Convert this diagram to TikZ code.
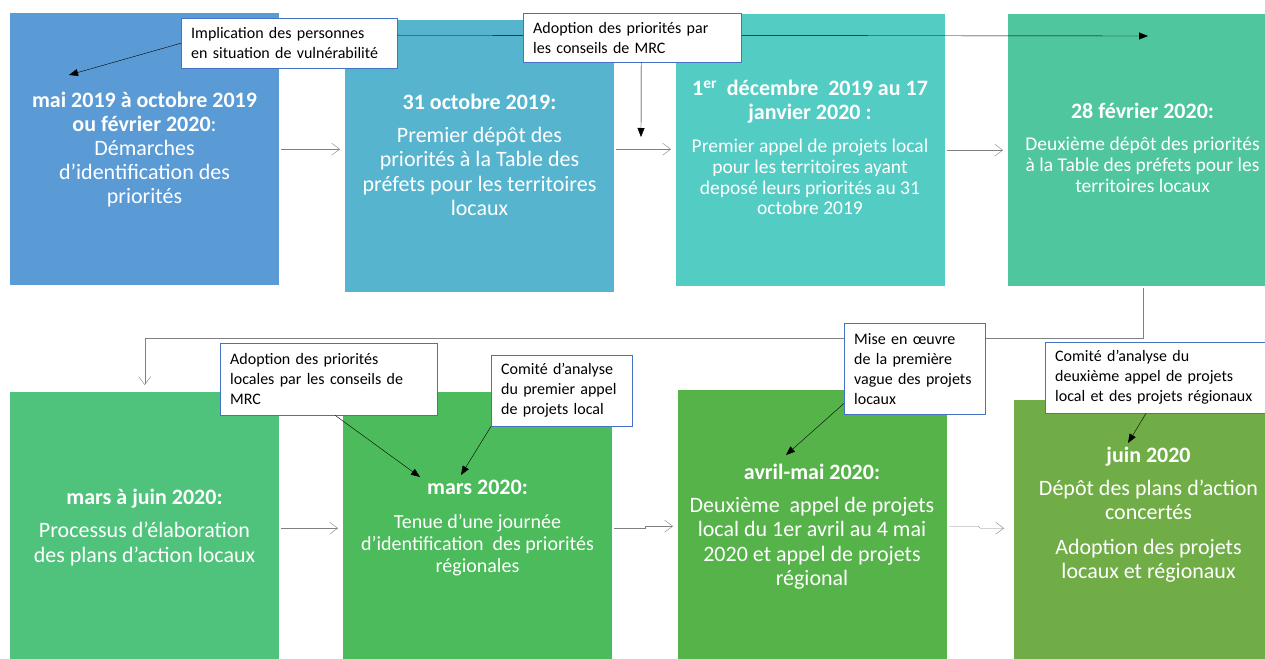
\documentclass[tikz,border=0pt]{standalone}
\usepackage{fontspec}
\setmainfont{Carlito}
\usetikzlibrary{arrows.meta}

\definecolor{stepA}{HTML}{5B9BD5}
\definecolor{stepB}{HTML}{57B4CE}
\definecolor{stepC}{HTML}{53CCC4}
\definecolor{stepD}{HTML}{50C69E}
\definecolor{stepE}{HTML}{4FC27C}
\definecolor{stepF}{HTML}{4CBB5B}
\definecolor{stepG}{HTML}{56B34A}
\definecolor{stepH}{HTML}{70AD47}
\definecolor{noteblue}{HTML}{4472C4}
\definecolor{flowgray}{HTML}{808080}

\begin{document}
\begin{tikzpicture}[x=1pt, y=-1pt,
  box/.style={rectangle, inner sep=0pt, minimum width=269pt, minimum height=272pt, anchor=north west},
  boxtitle/.style={text=white, align=center, inner sep=0pt, anchor=north, font=\fontsize{22}{24}\selectfont\bfseries},
  boxbody/.style={text=white, align=center, inner sep=0pt, anchor=north, font=\fontsize{22}{24.5}\selectfont},
  note/.style={draw=noteblue, fill=white, align=left, inner xsep=10pt, inner ysep=0pt, anchor=north west, font=\fontsize{16}{20}\selectfont},
  flow/.style={draw=flowgray, shorten <=2pt, shorten >=5pt, -{Straight Barb[length=8pt,width=12pt]}},
  point/.style={black, -{Triangle[length=9pt,width=7pt]}}
]

  % Page
  \useasboundingbox (0,0) rectangle (1265,658);

  % Top row
  \node[box, fill=stepA] (b1) at (10,13) {};
  \node[box, fill=stepB] (b2) at (345,20) {};
  \node[box, fill=stepC] (b3) at (676,14) {};
  \node[box, fill=stepD] (b4) at (1008,14) {};

  % Bottom row
  \node[box, fill=stepE] (b5) at (10,392) {};
  \node[box, fill=stepF] (b6) at (343,392) {};
  \node[box, fill=stepG] (b7) at (678,390) {};
  \node[box, fill=stepH] (b8) at (1014,400) {};

  % Texts of the top row
  \node[boxtitle] (h1) at (144.5,92) {mai 2019 à octobre 2019\\ou février 2020\mdseries:};
  \node[boxbody, font=\fontsize{22}{24}\selectfont] (d1) at (144.5,140) {Démarches\\d’identification des\\priorités};

  \node[boxtitle] (h2) at (479.5,94) {31 octobre 2019:};
  \node[boxbody] (d2) at (479.5,127) {Premier dépôt des\\priorités à la Table des\\préfets pour les territoires\\locaux};

  \node[boxtitle] (h3) at (810,80) {1\textsuperscript{er}~ décembre~ 2019 au 17\\janvier 2020 :};
  \node[boxbody, font=\fontsize{19.5}{20.7}\selectfont] (d3) at (810,139) {Premier appel de projets local\\pour les territoires ayant\\deposé leurs priorités au 31\\octobre 2019};

  \node[boxtitle] (h4) at (1142.5,103) {28 février 2020:};
  \node[boxbody, font=\fontsize{19.5}{21}\selectfont] (d4) at (1142.5,137) {Deuxième dépôt des priorités\\à la Table des préfets pour les\\territoires locaux};

  % Texts of the bottom row
  \node[boxtitle] (h5) at (144.5,489) {mars à juin 2020:};
  \node[boxbody, font=\fontsize{22}{25}\selectfont] (d5) at (144.5,522) {Processus d’élaboration\\des plans d’action locaux};

  \node[boxtitle] (h6) at (477.5,480) {mars 2020:};
  \node[boxbody, font=\fontsize{20}{22}\selectfont] (d6) at (477.5,514) {Tenue d’une journée\\d’identification~ des priorités\\régionales};

  \node[boxtitle] (h7) at (812,464) {avril-mai 2020:};
  \node[boxbody] (d7) at (812,497) {Deuxième~ appel de projets\\local du 1er avril au 4 mai\\2020 et appel de projets\\régional};

  \node[boxtitle] (h8) at (1148.5,447) {juin 2020};
  \node[boxbody, font=\fontsize{22}{24}\selectfont] (d8) at (1148.5,480) {Dépôt des plans d’action\\concertés\\[11pt]Adoption des projets\\locaux et régionaux};

  % Flow between the steps
  \draw[flow] (b1.east) -- (b1.east -| b2.west);
  \draw[flow] (b1.east -| b2.east) -- (b1.east -| b3.west);
  \draw[flow] (b3.east) -- (b3.east -| b4.west);
  \draw[flow, shorten >=7pt] (b4.south) -- ++(0,52) -| (b5.north);
  \draw[flow] (b5.east) -- (b5.east -| b6.west);
  \draw[flow] (b6.east) -- ++(33,0) |- (b7.west);
  \draw[flow, shorten >=10pt] (b7.east) -- ++(31,0) -- ++(2,2) -- ([yshift=-2pt]b7.east -| b8.west);

  % Free ends of the pointers
  \coordinate (p1) at (69,75);
  \coordinate (p2) at (641,137);
  \coordinate (p4) at (1148,36);
  \coordinate (p5) at (420,477);
  \coordinate (p6) at (461,475);
  \coordinate (p7) at (786,455);
  \coordinate (p8) at (1128,443);

  % Callouts
  \node[note, text width=196pt, minimum height=50pt] (n1) at (181,18) {Implication des personnes\\en situation de vulnérabilité};
  \draw[point] (n1.east) ++(0,-8) -- (p4);
  \node[note, text width=198pt, minimum height=49pt] (n2) at (523,13) {Adoption des priorités par\\les conseils de MRC};
  \draw[point] (n1.west) -- (p1);
  \draw[point] ([xshift=9pt]n2.south) -- (p2);

  \node[note, text width=197pt, minimum height=72pt] (n3) at (220,343) {Adoption des priorités\\locales par les conseils de\\MRC};
  \node[note, text width=121pt, minimum height=71pt] (n4) at (491,355) {Comité d’analyse\\du premier appel\\de projets local};
  \node[note, text width=121pt, minimum height=91pt] (n5) at (844,323) {Mise en œuvre\\de la première\\vague des projets\\locaux};
  \node[note, text width=205pt, minimum height=71pt] (n6) at (1045,342) {Comité d’analyse du\\deuxième appel de projets\\local et des projets régionaux};
  \draw[point] ([xshift=6.5pt]n3.south) -- (p5);
  \draw[point] (n4.south west) -- (p6);
  \draw[point] (n5.south west) ++(0,-11) -- (p7);
  \draw[point] ([xshift=101pt]n6.south west) -- (p8);

\end{tikzpicture}
\end{document}
